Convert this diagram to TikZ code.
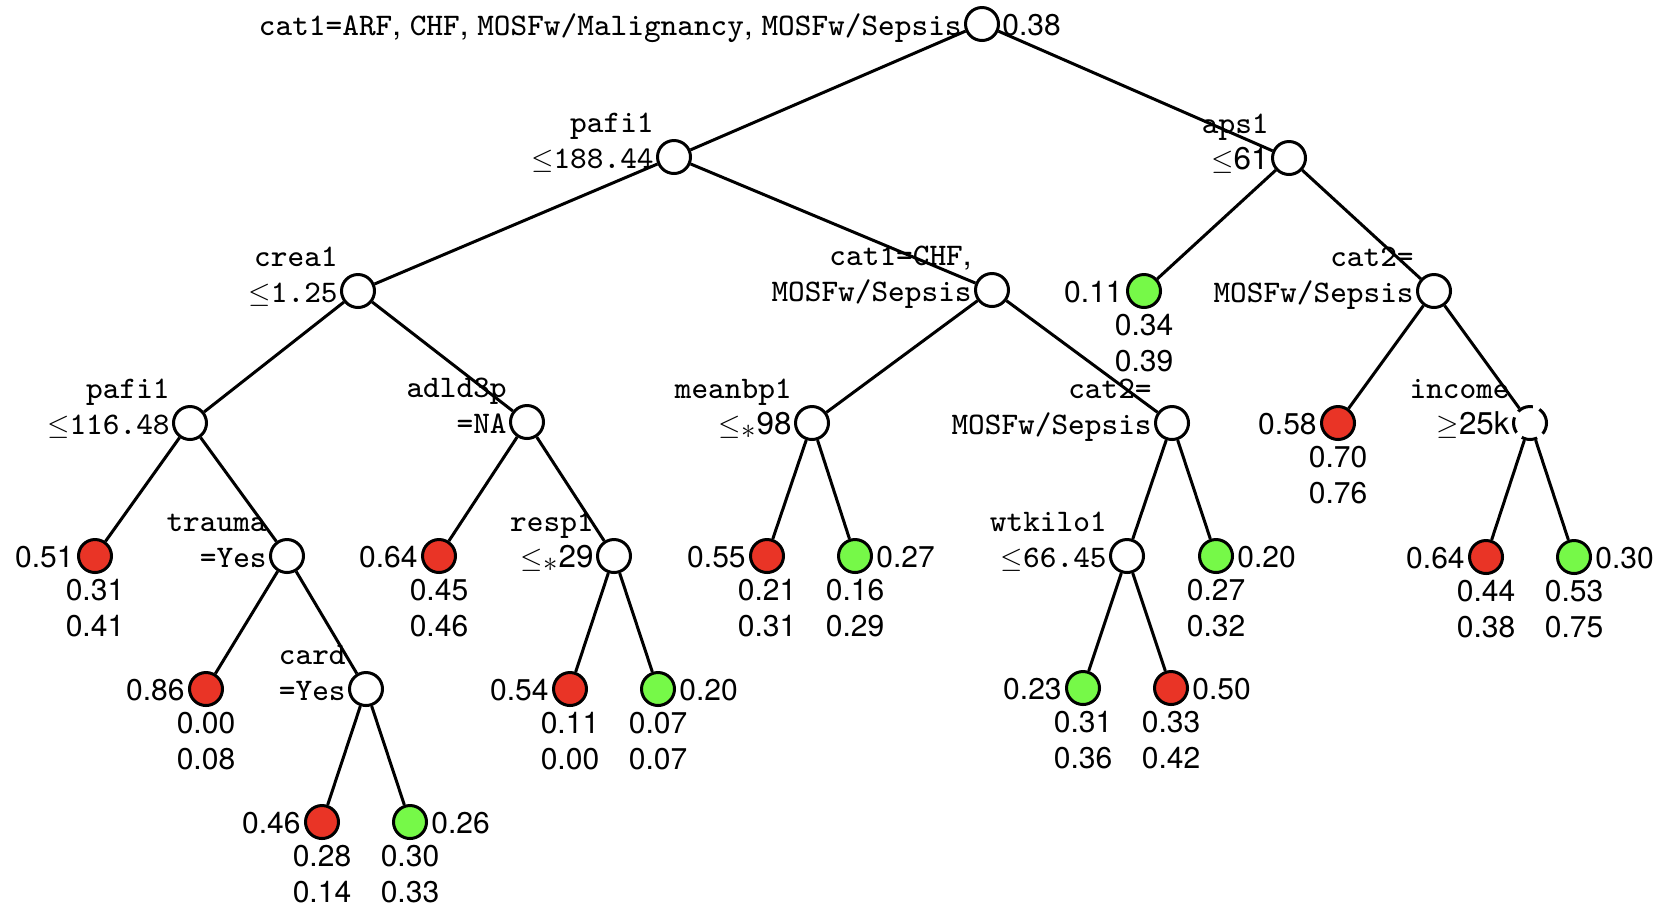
\documentclass[tikz,border=0pt]{standalone}
\usepackage{fontspec}
\setmainfont{TeX Gyre Heros}
\setmonofont{lmmono8-regular.otf}
\definecolor{leafred}{RGB}{233,52,38}
\definecolor{leafgreen}{RGB}{118,249,72}
\newcommand{\splitlbl}[2]{\vbox{\halign{\hfil##\cr #1\cr #2\cr}}}
\newcommand{\leafstk}[2]{\vtop{\halign{\hfil##\hfil\cr #1\cr #2\cr}}}
\tikzset{
  split/.style={circle,draw,fill=white,line width=1.5pt,minimum size=16.5pt,inner sep=0pt},
  red leaf/.style={split,fill=leafred},
  green leaf/.style={split,fill=leafgreen},
  open split/.style={split,dash pattern=on 8pt off 3.5pt},
  rule/.style={anchor=base east,inner sep=0pt,font=\fontsize{15.7}{18}\selectfont},
  lval/.style={anchor=base east,inner sep=0pt,font=\fontsize{15}{18}\selectfont},
  rval/.style={anchor=base west,inner sep=0pt,font=\fontsize{15}{18}\selectfont},
  bval/.style={anchor=base,inner sep=0pt,font=\fontsize{15}{18}\selectfont},
}
\begin{document}
\begin{tikzpicture}[x=0.5pt,y=-0.5pt]
	\useasboundingbox (0,0) rectangle (1668,912);
	% splits
	\node[split] (v0) at (982,24) {};
	\node[split] (v1) at (674,157) {};
	\node[split] (v2) at (1289,158) {};
	\node[split] (v3) at (358,291) {};
	\node[split] (v4) at (992,290) {};
	\node[split] (v6) at (1434,291) {};
	\node[split] (v7) at (190,423) {};
	\node[split] (v8) at (527,422) {};
	\node[split] (v9) at (812,423) {};
	\node[split] (v10) at (1172,423) {};
	\node[open split] (v12) at (1530,423) {};
	\node[split] (v14) at (287,556) {};
	\node[split] (v16) at (614,556) {};
	\node[split] (v19) at (1127,556) {};
	\node[split] (v24) at (366,689) {};
	% leaves
	\node[green leaf] (v5) at (1144,291) {};
	\node[red leaf] (v11) at (1338,423) {};
	\node[red leaf] (v13) at (95,556) {};
	\node[red leaf] (v15) at (439,556) {};
	\node[red leaf] (v17) at (767,556) {};
	\node[green leaf] (v18) at (855,556) {};
	\node[green leaf] (v20) at (1216,556) {};
	\node[red leaf] (v21) at (1486,557) {};
	\node[green leaf] (v22) at (1574,557) {};
	\node[red leaf] (v23) at (206,689) {};
	\node[red leaf] (v25) at (570,689) {};
	\node[green leaf] (v26) at (658,689) {};
	\node[green leaf] (v27) at (1083,688) {};
	\node[red leaf] (v28) at (1171,688) {};
	\node[red leaf] (v29) at (322,822) {};
	\node[green leaf] (v30) at (410,822) {};

	% rules
	\node[rule] (c0) at ([xshift=-10pt,yshift=-5.5pt]v0.center) {\texttt{cat1=ARF}, \texttt{CHF}, \texttt{MOSFw/Malignancy}, \texttt{MOSFw/Sepsis}};
	\node[rval] (p0) at ([xshift=10pt,yshift=-5.5pt]v0.center) {0.38};
	\node[rule] (c1) at ([xshift=-10pt,yshift=-5.5pt]v1.center) {\splitlbl{\texttt{pafi1}}{$\le$\texttt{188.44}}};
	\node[rule] (c2) at ([xshift=-10pt,yshift=-5.5pt]v2.center) {\splitlbl{\texttt{aps1}}{$\le$61}};
	\node[rule] (c3) at ([xshift=-10pt,yshift=-5.5pt]v3.center) {\splitlbl{\texttt{crea1}}{$\le$\texttt{1.25}}};
	\node[rule] (c4) at ([xshift=-10pt,yshift=-5.5pt]v4.center) {\splitlbl{\texttt{cat1=CHF},}{\texttt{MOSFw/Sepsis}}};
	\node[rule] (c6) at ([xshift=-10pt,yshift=-5.5pt]v6.center) {\splitlbl{\texttt{cat2=}}{\texttt{MOSFw/Sepsis}}};
	\node[rule] (c7) at ([xshift=-10pt,yshift=-5.5pt]v7.center) {\splitlbl{\texttt{pafi1}}{$\le$\texttt{116.48}}};
	\node[rule] (c8) at ([xshift=-10pt,yshift=-5.5pt]v8.center) {\splitlbl{\texttt{adld3p}}{\texttt{=NA}}};
	\node[rule] (c9) at ([xshift=-10pt,yshift=-5.5pt]v9.center) {\splitlbl{\texttt{meanbp1}}{$\le_{\textstyle *}$98}};
	\node[rule] (c10) at ([xshift=-10pt,yshift=-5.5pt]v10.center) {\splitlbl{\texttt{cat2=}}{\texttt{MOSFw/Sepsis}}};
	\node[rule] (c12) at ([xshift=-10pt,yshift=-5.5pt]v12.center) {\splitlbl{\texttt{income}}{$\ge$25k}};
	\node[rule] (c14) at ([xshift=-10pt,yshift=-5.5pt]v14.center) {\splitlbl{\texttt{trauma}}{\texttt{=Yes}}};
	\node[rule] (c16) at ([xshift=-10pt,yshift=-5.5pt]v16.center) {\splitlbl{\texttt{resp1}}{$\le_{\textstyle *}$29}};
	\node[rule] (c19) at ([xshift=-10pt,yshift=-5.5pt]v19.center) {\splitlbl{\texttt{wtkilo1}}{$\le$\texttt{66.45}}};
	\node[rule] (c24) at ([xshift=-10pt,yshift=-5.5pt]v24.center) {\splitlbl{\texttt{card}}{\texttt{=Yes}}};

	% leaf values
	\node[lval] (p5) at ([xshift=-10.5pt,yshift=-5.5pt]v5.center) {0.11};
	\node[bval] (s5) at ([yshift=-22pt]v5.center) {\leafstk{0.34}{0.39}};
	\node[lval] (p11) at ([xshift=-10.5pt,yshift=-5.5pt]v11.center) {0.58};
	\node[bval] (s11) at ([yshift=-22pt]v11.center) {\leafstk{0.70}{0.76}};
	\node[lval] (p13) at ([xshift=-10.5pt,yshift=-5.5pt]v13.center) {0.51};
	\node[bval] (s13) at ([yshift=-22pt]v13.center) {\leafstk{0.31}{0.41}};
	\node[lval] (p15) at ([xshift=-10.5pt,yshift=-5.5pt]v15.center) {0.64};
	\node[bval] (s15) at ([yshift=-22pt]v15.center) {\leafstk{0.45}{0.46}};
	\node[lval] (p17) at ([xshift=-10.5pt,yshift=-5.5pt]v17.center) {0.55};
	\node[bval] (s17) at ([yshift=-22pt]v17.center) {\leafstk{0.21}{0.31}};
	\node[rval] (p18) at ([xshift=10.5pt,yshift=-5.5pt]v18.center) {0.27};
	\node[bval] (s18) at ([yshift=-22pt]v18.center) {\leafstk{0.16}{0.29}};
	\node[rval] (p20) at ([xshift=10.5pt,yshift=-5.5pt]v20.center) {0.20};
	\node[bval] (s20) at ([yshift=-22pt]v20.center) {\leafstk{0.27}{0.32}};
	\node[lval] (p21) at ([xshift=-10.5pt,yshift=-5.5pt]v21.center) {0.64};
	\node[bval] (s21) at ([yshift=-22pt]v21.center) {\leafstk{0.44}{0.38}};
	\node[rval] (p22) at ([xshift=10.5pt,yshift=-5.5pt]v22.center) {0.30};
	\node[bval] (s22) at ([yshift=-22pt]v22.center) {\leafstk{0.53}{0.75}};
	\node[lval] (p23) at ([xshift=-10.5pt,yshift=-5.5pt]v23.center) {0.86};
	\node[bval] (s23) at ([yshift=-22pt]v23.center) {\leafstk{0.00}{0.08}};
	\node[lval] (p25) at ([xshift=-10.5pt,yshift=-5.5pt]v25.center) {0.54};
	\node[bval] (s25) at ([yshift=-22pt]v25.center) {\leafstk{0.11}{0.00}};
	\node[rval] (p26) at ([xshift=10.5pt,yshift=-5.5pt]v26.center) {0.20};
	\node[bval] (s26) at ([yshift=-22pt]v26.center) {\leafstk{0.07}{0.07}};
	\node[lval] (p27) at ([xshift=-10.5pt,yshift=-5.5pt]v27.center) {0.23};
	\node[bval] (s27) at ([yshift=-22pt]v27.center) {\leafstk{0.31}{0.36}};
	\node[rval] (p28) at ([xshift=10.5pt,yshift=-5.5pt]v28.center) {0.50};
	\node[bval] (s28) at ([yshift=-22pt]v28.center) {\leafstk{0.33}{0.42}};
	\node[lval] (p29) at ([xshift=-10.5pt,yshift=-5.5pt]v29.center) {0.46};
	\node[bval] (s29) at ([yshift=-22pt]v29.center) {\leafstk{0.28}{0.14}};
	\node[rval] (p30) at ([xshift=10.5pt,yshift=-5.5pt]v30.center) {0.26};
	\node[bval] (s30) at ([yshift=-22pt]v30.center) {\leafstk{0.30}{0.33}};

	\path[draw,line width=1.5pt]
		(v0) edge (v1)
		(v0) edge (v2)
		(v1) edge (v3)
		(v1) edge (v4)
		(v2) edge (v5)
		(v2) edge (v6)
		(v3) edge (v7)
		(v3) edge (v8)
		(v4) edge (v9)
		(v4) edge (v10)
		(v6) edge (v11)
		(v6) edge (v12)
		(v7) edge (v13)
		(v7) edge (v14)
		(v8) edge (v15)
		(v8) edge (v16)
		(v9) edge (v17)
		(v9) edge (v18)
		(v10) edge (v19)
		(v10) edge (v20)
		(v12) edge (v21)
		(v12) edge (v22)
		(v14) edge (v23)
		(v14) edge (v24)
		(v16) edge (v25)
		(v16) edge (v26)
		(v19) edge (v27)
		(v19) edge (v28)
		(v24) edge (v29)
		(v24) edge (v30);
\end{tikzpicture}
\end{document}
